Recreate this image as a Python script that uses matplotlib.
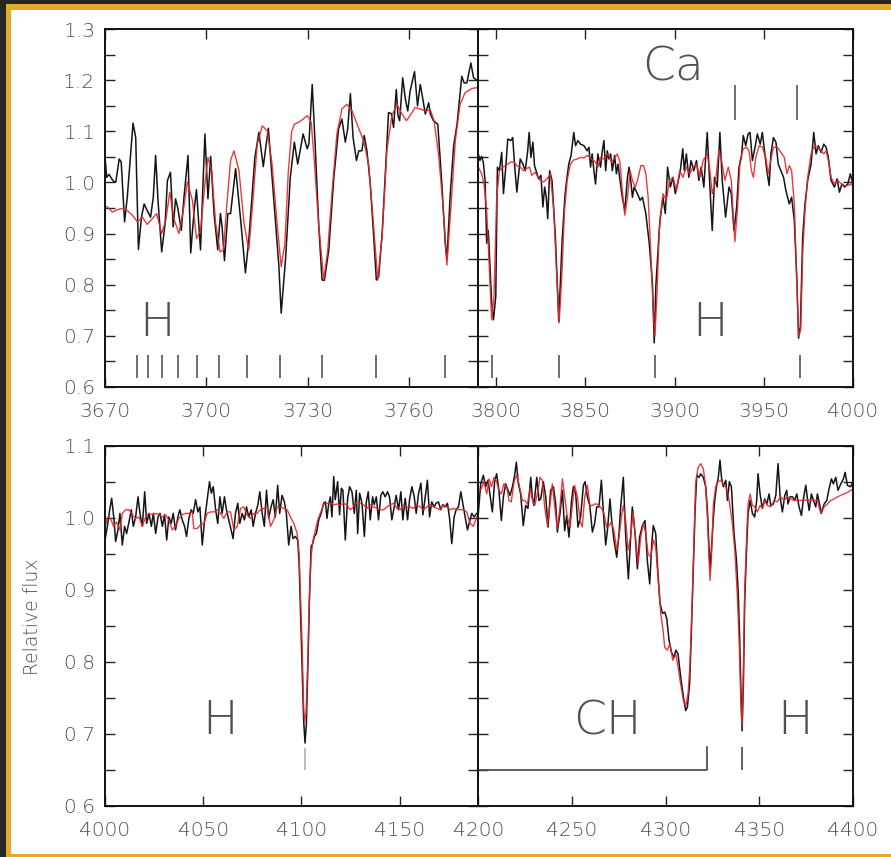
import matplotlib.pyplot as plt
from matplotlib.patches import Rectangle
from matplotlib.ticker import MultipleLocator, FormatStrFormatter

plt.rcParams['font.family'] = 'DejaVu Sans'
plt.rcParams['font.weight'] = 'light'

# ---------------- data ----------------
# panel 1: 3670-3780 A
tl_obs_wave = [3670.0, 3670.5, 3671.2, 3671.9, 3672.7, 3673.2, 3674.2, 3674.8, 3675.8, 3676.6,
               3678.3, 3679.1, 3679.9, 3680.8, 3681.6, 3682.5, 3683.5, 3684.3, 3685.0, 3685.7,
               3686.8, 3687.8, 3688.5, 3689.4, 3690.2, 3690.9, 3691.6, 3692.6, 3693.4, 3694.6,
               3695.4, 3696.4, 3697.1, 3698.3, 3699.6, 3700.5, 3701.3, 3702.3, 3703.4, 3704.2,
               3704.7, 3705.4, 3706.4, 3707.2, 3708.7, 3710.2, 3711.6, 3712.6, 3714.4, 3715.6,
               3716.9, 3717.5, 3718.4, 3719.5, 3721.5, 3722.2, 3723.5, 3724.9, 3726.1, 3727.1,
               3728.7, 3729.9, 3730.4, 3731.4, 3732.3, 3733.3, 3734.3, 3735.0, 3736.3, 3737.8,
               3739.2, 3740.2, 3741.2, 3741.9, 3742.7, 3743.5, 3744.5, 3745.2, 3746.1, 3746.8,
               3747.6, 3748.6, 3749.6, 3750.4, 3751.1, 3752.1, 3753.0, 3754.0, 3754.8, 3755.5,
               3756.3, 3756.8, 3757.3, 3758.2, 3759.0, 3759.7, 3760.4, 3761.7, 3762.6, 3763.4,
               3764.1, 3764.9, 3765.9, 3766.4, 3767.3, 3768.6, 3769.8, 3770.8, 3771.3, 3772.3,
               3773.3, 3774.3, 3775.7, 3776.4, 3777.2, 3778.4, 3779.2, 3780.4]
tl_obs_flux = [1.050, 1.010, 1.016, 1.008, 1.001, 1.001, 1.046, 1.040, 0.923, 0.971,
               1.116, 1.088, 0.869, 0.932, 0.958, 0.945, 0.932, 0.971, 1.053, 0.965,
               0.864, 0.919, 1.004, 1.020, 0.913, 0.968, 0.949, 0.906, 0.971, 1.053,
               0.862, 0.945, 0.986, 0.868, 1.095, 0.968, 1.051, 0.939, 0.868, 0.939,
               0.913, 0.847, 0.939, 0.939, 1.027, 0.926, 0.823, 0.887, 1.049, 1.098,
               1.031, 1.062, 1.106, 1.010, 0.838, 0.744, 0.851, 1.010, 1.079, 1.036,
               1.095, 1.066, 1.075, 1.192, 1.069, 0.919, 0.809, 0.808, 0.868, 1.010,
               1.105, 1.124, 1.079, 1.105, 1.174, 1.088, 1.043, 1.062, 1.062, 1.092,
               1.062, 0.997, 0.894, 0.809, 0.816, 0.900, 1.010, 1.137, 1.135, 1.108,
               1.182, 1.131, 1.121, 1.205, 1.163, 1.140, 1.179, 1.217, 1.150, 1.192,
               1.166, 1.134, 1.156, 1.134, 1.121, 1.114, 0.997, 0.881, 0.849, 0.978,
               1.072, 1.114, 1.208, 1.195, 1.195, 1.234, 1.205, 1.199]
tl_mod_wave = [3670.0, 3670.7, 3672.2, 3673.7, 3675.1, 3676.6, 3678.1, 3679.6, 3681.1, 3682.5,
               3684.0, 3685.3, 3686.8, 3688.0, 3689.2, 3690.4, 3691.9, 3693.2, 3694.4, 3695.9,
               3697.1, 3698.3, 3699.5, 3700.5, 3701.6, 3702.8, 3704.1, 3705.1, 3706.2, 3707.2,
               3708.2, 3709.7, 3711.2, 3712.6, 3713.9, 3715.1, 3716.6, 3718.1, 3719.5, 3721.0,
               3722.2, 3723.3, 3724.3, 3725.3, 3726.1, 3727.4, 3728.7, 3729.9, 3731.1, 3732.0,
               3733.3, 3734.8, 3736.0, 3737.3, 3738.7, 3740.2, 3741.7, 3743.2, 3744.7, 3746.6,
               3748.1, 3749.6, 3750.8, 3752.1, 3753.5, 3755.0, 3756.5, 3758.0, 3759.3, 3760.4,
               3761.9, 3763.4, 3764.9, 3766.4, 3767.5, 3768.8, 3770.1, 3771.3, 3772.5, 3773.8,
               3775.2, 3776.7, 3778.7, 3780.4]
tl_mod_flux = [0.953, 0.952, 0.942, 0.947, 0.949, 0.945, 0.936, 0.923, 0.932, 0.918,
               0.929, 0.939, 0.900, 0.926, 0.981, 0.929, 0.900, 0.945, 1.001, 0.965,
               0.890, 0.906, 0.991, 1.049, 1.023, 0.919, 0.864, 0.868, 0.965, 1.043,
               1.062, 1.023, 0.919, 0.868, 0.971, 1.075, 1.111, 1.101, 1.036, 0.919,
               0.835, 0.880, 1.020, 1.100, 1.114, 1.118, 1.124, 1.131, 1.118, 1.043,
               0.919, 0.809, 0.868, 0.984, 1.095, 1.144, 1.153, 1.140, 1.114, 1.082,
               1.036, 0.913, 0.809, 0.894, 1.062, 1.131, 1.153, 1.134, 1.121, 1.131,
               1.147, 1.144, 1.140, 1.142, 1.121, 1.056, 0.958, 0.838, 0.952, 1.082,
               1.153, 1.176, 1.184, 1.186]

# panel 2: 3790-4000 A
tr_obs_wave = [3790.0, 3790.9, 3791.9, 3792.8, 3793.8, 3794.7, 3795.6, 3797.5, 3798.5, 3799.8,
               3800.7, 3801.8, 3803.1, 3804.1, 3805.4, 3806.5, 3808.2, 3809.3, 3810.3, 3811.6,
               3813.5, 3815.0, 3816.3, 3817.6, 3818.5, 3819.5, 3820.6, 3821.5, 3822.9, 3823.8,
               3825.1, 3826.2, 3827.2, 3828.1, 3828.9, 3830.0, 3831.3, 3833.2, 3835.1, 3836.9,
               3838.5, 3839.4, 3840.7, 3842.0, 3843.5, 3844.5, 3845.8, 3847.3, 3849.2, 3851.0,
               3852.0, 3852.9, 3853.8, 3854.8, 3855.7, 3857.0, 3858.5, 3859.5, 3860.4, 3861.4,
               3862.3, 3863.2, 3864.2, 3865.1, 3866.4, 3867.4, 3868.3, 3869.2, 3870.7, 3872.1,
               3873.6, 3874.5, 3875.4, 3876.4, 3877.3, 3879.2, 3880.7, 3882.0, 3883.9, 3885.8,
               3887.6, 3888.6, 3889.5, 3891.4, 3892.0, 3893.5, 3894.8, 3896.1, 3897.6, 3899.1,
               3900.4, 3901.7, 3903.2, 3904.6, 3905.5, 3906.6, 3908.0, 3909.2, 3910.8, 3912.3,
               3913.6, 3914.9, 3916.4, 3918.3, 3919.8, 3921.1, 3922.4, 3923.9, 3925.4, 3926.7,
               3928.6, 3930.5, 3931.8, 3933.3, 3934.8, 3936.1, 3937.4, 3938.5, 3939.9, 3941.2,
               3942.3, 3943.6, 3945.1, 3946.4, 3948.0, 3949.2, 3950.6, 3951.7, 3953.0, 3954.0,
               3955.4, 3956.8, 3958.1, 3959.6, 3961.1, 3962.4, 3964.3, 3965.6, 3967.1, 3968.6,
               3969.5, 3970.5, 3971.8, 3973.1, 3974.6, 3976.5, 3978.0, 3979.3, 3980.6, 3982.1,
               3983.6, 3984.9, 3986.2, 3987.7, 3989.6, 3991.1, 3992.4, 3993.8, 3995.3, 3997.1,
               3998.5, 4000.0]
tr_obs_flux = [1.056, 1.043, 1.051, 1.040, 1.004, 0.881, 0.906, 0.764, 0.731, 0.777,
               1.030, 1.023, 1.059, 0.978, 1.030, 1.085, 1.082, 1.088, 1.036, 0.981,
               1.046, 1.036, 1.023, 1.059, 1.098, 1.049, 1.079, 1.033, 1.017, 1.007,
               1.014, 0.952, 0.991, 0.971, 0.929, 1.023, 1.004, 0.894, 0.728, 0.881,
               0.971, 1.001, 1.036, 1.053, 1.098, 1.072, 1.082, 1.075, 1.072, 1.062,
               1.069, 1.030, 1.056, 1.023, 0.997, 1.056, 1.030, 1.062, 1.082, 1.023,
               1.062, 1.046, 1.056, 1.023, 1.053, 1.017, 1.036, 1.010, 0.971, 0.945,
               1.010, 1.030, 1.004, 0.971, 0.991, 0.978, 0.965, 0.971, 0.939, 0.881,
               0.803, 0.686, 0.797, 0.906, 0.932, 0.971, 0.939, 1.030, 0.991, 1.010,
               0.978, 0.997, 1.023, 1.066, 1.023, 1.056, 1.010, 1.043, 1.023, 1.043,
               1.004, 1.030, 0.991, 1.098, 0.991, 0.906, 1.010, 0.991, 1.098, 1.004,
               0.932, 0.991, 0.978, 0.906, 0.952, 1.030, 1.049, 1.092, 1.072, 1.095,
               1.098, 1.043, 1.069, 1.095, 1.075, 1.098, 1.056, 1.023, 0.994, 1.056,
               1.088, 1.079, 1.036, 1.023, 1.010, 0.984, 0.958, 0.971, 0.926, 0.803,
               0.695, 0.718, 0.894, 0.958, 1.004, 1.036, 1.098, 1.056, 1.072, 1.059,
               1.075, 1.069, 1.049, 1.004, 0.991, 1.007, 0.981, 0.997, 0.991, 0.997,
               1.017, 0.997]
tr_mod_wave = [3790.0, 3791.9, 3793.2, 3794.7, 3796.2, 3797.5, 3798.8, 3800.3, 3801.8, 3803.7,
               3806.0, 3808.2, 3810.1, 3811.6, 3813.5, 3815.4, 3816.9, 3818.7, 3820.0, 3821.9,
               3823.2, 3824.7, 3826.6, 3828.5, 3830.4, 3832.3, 3833.8, 3835.3, 3836.8, 3838.3,
               3839.8, 3841.6, 3843.5, 3845.4, 3847.3, 3849.2, 3851.0, 3852.5, 3854.4, 3855.7,
               3857.0, 3858.5, 3860.4, 3861.9, 3863.2, 3864.6, 3866.1, 3867.9, 3869.4, 3870.7,
               3872.1, 3873.6, 3875.1, 3876.4, 3877.9, 3879.2, 3881.1, 3882.6, 3883.9, 3885.2,
               3886.7, 3888.0, 3889.0, 3890.1, 3891.4, 3893.5, 3895.4, 3897.2, 3899.1, 3901.0,
               3902.9, 3904.7, 3906.6, 3908.5, 3910.4, 3912.3, 3914.1, 3916.0, 3918.3, 3919.8,
               3921.1, 3923.0, 3924.8, 3926.3, 3928.2, 3930.1, 3931.8, 3932.9, 3933.8, 3935.2,
               3936.7, 3938.5, 3940.4, 3941.7, 3943.1, 3944.2, 3945.5, 3947.4, 3949.2, 3951.1,
               3952.4, 3953.9, 3955.4, 3957.7, 3959.6, 3961.5, 3963.0, 3964.3, 3965.6, 3967.1,
               3968.4, 3969.5, 3970.7, 3971.8, 3973.1, 3974.6, 3976.5, 3978.4, 3980.2, 3982.1,
               3983.6, 3984.9, 3986.2, 3987.7, 3989.6, 3991.5, 3993.4, 3995.3, 3997.1, 3999.0,
               4000.5]
tr_mod_flux = [1.030, 1.017, 0.997, 0.945, 0.829, 0.731, 0.777, 0.971, 1.023, 1.030,
               1.035, 1.040, 1.040, 1.033, 1.030, 1.023, 1.027, 1.030, 1.014, 1.020,
               1.012, 1.004, 1.001, 1.007, 1.017, 0.945, 0.829, 0.725, 0.816, 0.945,
               1.004, 1.036, 1.044, 1.046, 1.049, 1.048, 1.053, 1.049, 1.043, 1.040,
               1.030, 1.049, 1.046, 1.056, 1.053, 1.040, 1.046, 1.056, 1.040, 0.984,
               0.936, 0.971, 1.023, 1.004, 0.991, 1.004, 1.033, 1.033, 1.017, 0.971,
               0.861, 0.751, 0.700, 0.777, 0.906, 0.978, 0.965, 1.004, 1.010, 0.984,
               1.023, 1.010, 1.030, 1.017, 1.030, 1.036, 1.010, 1.043, 1.056, 1.023,
               0.978, 1.004, 1.062, 1.043, 1.004, 1.030, 1.004, 0.932, 0.884, 0.945,
               1.043, 1.066, 1.069, 1.062, 1.023, 1.010, 1.049, 1.072, 1.069, 1.049,
               1.017, 1.043, 1.069, 1.069, 1.059, 1.049, 1.017, 1.033, 1.023, 0.958,
               0.816, 0.699, 0.712, 0.861, 0.945, 1.010, 1.056, 1.072, 1.069, 1.062,
               1.056, 1.062, 1.043, 1.010, 0.997, 1.004, 0.997, 0.994, 0.994, 0.997,
               0.991]

# panel 3: 4000-4190 A
bl_obs_wave = [4000.0, 4001.2, 4002.4, 4003.4, 4004.6, 4005.4, 4006.6, 4007.6, 4008.8, 4010.0,
               4011.0, 4012.2, 4013.4, 4014.4, 4015.6, 4016.8, 4017.8, 4019.0, 4020.2, 4021.2,
               4022.4, 4023.6, 4024.6, 4025.8, 4027.0, 4028.0, 4029.2, 4030.3, 4031.4, 4032.5,
               4033.7, 4034.7, 4035.9, 4037.1, 4038.1, 4039.3, 4040.5, 4041.5, 4042.7, 4043.9,
               4044.9, 4046.1, 4047.3, 4048.3, 4049.5, 4050.7, 4052.0, 4053.2, 4054.1, 4055.1,
               4056.3, 4057.4, 4058.5, 4059.6, 4060.8, 4061.8, 4063.0, 4064.2, 4065.2, 4066.4,
               4067.6, 4068.6, 4069.8, 4071.0, 4072.0, 4073.2, 4074.4, 4075.4, 4076.6, 4077.8,
               4078.8, 4080.0, 4081.1, 4082.2, 4083.3, 4084.5, 4085.6, 4086.7, 4087.9, 4088.9,
               4090.1, 4091.3, 4092.3, 4093.5, 4094.7, 4095.7, 4096.9, 4098.1, 4098.8, 4099.4,
               4100.3, 4101.1, 4101.8, 4102.5, 4103.2, 4104.0, 4104.9, 4105.7, 4106.6, 4107.6,
               4108.8, 4110.0, 4111.3, 4112.2, 4113.0, 4113.8, 4114.7, 4115.5, 4116.4, 4117.2,
               4118.4, 4119.4, 4120.3, 4121.1, 4122.3, 4123.5, 4124.5, 4125.7, 4126.9, 4127.9,
               4128.6, 4129.6, 4130.8, 4132.0, 4133.0, 4134.0, 4135.0, 4136.2, 4137.0, 4138.1,
               4139.2, 4140.4, 4141.4, 4142.6, 4143.8, 4144.8, 4146.0, 4147.2, 4148.2, 4149.4,
               4150.6, 4151.6, 4152.8, 4154.0, 4155.0, 4156.2, 4157.4, 4158.4, 4159.6, 4160.8,
               4161.8, 4163.0, 4164.1, 4165.2, 4166.3, 4167.5, 4168.5, 4169.7, 4170.9, 4171.9,
               4173.1, 4174.3, 4175.3, 4176.5, 4177.7, 4178.7, 4179.9, 4181.1, 4182.1, 4183.3,
               4184.5, 4185.5, 4186.7, 4187.9, 4189.2]
bl_obs_flux = [0.969, 0.988, 1.011, 1.027, 0.997, 0.967, 0.983, 1.006, 0.962, 0.988,
               0.978, 0.994, 1.011, 0.988, 1.001, 1.029, 1.006, 0.988, 1.036, 0.992,
               1.006, 0.988, 1.006, 0.978, 1.001, 1.006, 0.988, 1.004, 0.969, 1.001,
               0.992, 1.006, 0.983, 1.001, 1.011, 0.997, 0.988, 0.974, 0.999, 1.011,
               1.006, 1.025, 1.008, 1.015, 0.962, 0.997, 1.025, 1.050, 1.034, 1.043,
               1.011, 0.992, 1.029, 1.006, 1.029, 1.011, 0.997, 0.983, 0.971, 1.006,
               1.020, 0.992, 1.006, 0.997, 1.015, 1.001, 1.011, 0.988, 1.006, 1.018,
               1.036, 1.006, 0.988, 1.038, 0.999, 1.015, 1.025, 1.001, 1.045, 1.006,
               1.031, 1.022, 1.006, 0.962, 0.988, 0.971, 0.974, 0.969, 0.937, 0.881,
               0.798, 0.719, 0.687, 0.714, 0.788, 0.881, 0.960, 0.964, 0.974, 0.978,
               0.997, 1.006, 1.020, 1.022, 0.999, 1.018, 1.029, 1.001, 1.057, 1.025,
               1.050, 1.004, 1.041, 1.038, 0.969, 1.027, 1.043, 1.036, 1.006, 1.038,
               0.978, 1.034, 1.020, 0.974, 1.022, 1.036, 0.997, 1.029, 1.018, 1.029,
               0.997, 1.031, 1.036, 1.029, 1.036, 1.029, 0.997, 1.015, 1.031, 1.011,
               1.036, 0.997, 1.027, 0.997, 1.025, 1.043, 1.029, 1.006, 1.034, 1.048,
               1.004, 1.029, 1.052, 1.001, 1.022, 1.015, 1.020, 1.022, 1.011, 1.018,
               1.015, 1.020, 1.001, 0.964, 1.001, 1.011, 1.015, 1.036, 1.020, 1.001,
               0.983, 0.994, 1.006, 1.001, 1.006]
bl_mod_wave = [4000.0, 4001.5, 4002.9, 4004.3, 4005.9, 4007.6, 4008.8, 4010.5, 4012.2, 4013.9,
               4015.6, 4017.3, 4019.0, 4020.7, 4022.4, 4024.1, 4025.8, 4027.5, 4029.2, 4030.8,
               4032.5, 4034.2, 4035.9, 4037.6, 4039.3, 4041.0, 4042.7, 4044.4, 4045.2, 4046.9,
               4048.6, 4050.3, 4052.0, 4053.7, 4055.4, 4057.1, 4058.8, 4060.5, 4062.2, 4063.9,
               4065.6, 4067.3, 4069.0, 4070.6, 4072.3, 4074.0, 4075.7, 4077.4, 4079.1, 4080.8,
               4082.5, 4084.2, 4085.9, 4087.6, 4089.3, 4091.0, 4092.7, 4094.4, 4096.1, 4097.8,
               4098.8, 4099.4, 4100.3, 4101.1, 4101.6, 4102.3, 4103.2, 4104.0, 4104.9, 4105.9,
               4107.1, 4108.3, 4109.6, 4111.3, 4113.0, 4114.7, 4116.4, 4118.1, 4119.8, 4121.5,
               4123.1, 4124.8, 4126.5, 4128.2, 4129.9, 4131.6, 4133.3, 4135.0, 4136.7, 4138.4,
               4140.1, 4141.8, 4143.5, 4145.2, 4146.9, 4148.6, 4150.3, 4152.0, 4153.6, 4155.3,
               4157.0, 4158.7, 4160.4, 4162.1, 4163.8, 4165.5, 4167.2, 4168.9, 4170.6, 4172.3,
               4174.0, 4175.7, 4177.4, 4179.1, 4180.7, 4182.4, 4184.1, 4185.8, 4187.5, 4189.2]
bl_mod_flux = [0.988, 1.001, 0.999, 0.988, 0.994, 0.983, 1.006, 1.011, 1.011, 1.004,
               0.999, 1.001, 0.988, 1.001, 1.006, 1.004, 1.006, 1.004, 1.001, 1.004,
               0.997, 0.983, 0.988, 0.999, 1.004, 1.006, 1.006, 1.008, 0.985, 0.985,
               0.990, 0.992, 1.006, 1.008, 1.008, 1.011, 1.006, 0.999, 1.008, 1.008,
               0.983, 0.988, 1.013, 1.015, 1.004, 0.999, 1.006, 1.006, 1.011, 1.013,
               1.015, 0.988, 0.997, 1.015, 1.015, 1.013, 1.011, 1.001, 0.992, 0.978,
               0.950, 0.900, 0.825, 0.738, 0.717, 0.728, 0.798, 0.890, 0.946, 0.969,
               0.983, 0.997, 1.006, 1.018, 1.020, 1.020, 1.018, 1.019, 1.018, 1.020,
               1.018, 1.011, 1.015, 1.022, 1.020, 1.018, 1.013, 1.018, 1.015, 1.013,
               1.011, 1.011, 1.015, 1.018, 1.020, 1.013, 1.011, 1.018, 1.015, 1.015,
               1.013, 1.018, 1.015, 1.011, 1.015, 1.018, 1.015, 1.013, 1.011, 1.018,
               1.015, 1.011, 1.013, 1.011, 1.011, 1.011, 1.008, 0.992, 0.988, 1.001]

# panel 4: 4200-4400 A
br_obs_wave = [4200.0, 4201.3, 4202.7, 4203.9, 4205.2, 4206.2, 4207.5, 4208.7, 4209.8, 4211.0,
               4212.3, 4213.4, 4214.6, 4215.9, 4216.9, 4218.2, 4219.4, 4220.3, 4221.4, 4222.6,
               4224.0, 4225.3, 4226.5, 4228.0, 4228.8, 4229.7, 4231.2, 4232.4, 4233.3, 4234.7,
               4236.0, 4237.2, 4238.6, 4240.1, 4241.3, 4242.2, 4243.6, 4244.9, 4246.1, 4247.2,
               4248.4, 4249.7, 4250.7, 4252.0, 4253.2, 4254.6, 4256.1, 4257.0, 4258.2, 4259.5,
               4260.9, 4262.1, 4263.2, 4264.4, 4265.7, 4266.8, 4268.0, 4268.9, 4270.3, 4271.2,
               4272.4, 4273.9, 4275.1, 4276.0, 4277.4, 4278.7, 4280.1, 4281.3, 4282.2, 4283.7,
               4284.9, 4286.1, 4287.6, 4289.0, 4290.2, 4291.5, 4292.6, 4293.4, 4294.7, 4295.9,
               4297.0, 4298.3, 4299.5, 4300.6, 4301.8, 4303.1, 4304.5, 4305.4, 4306.6, 4308.0,
               4309.5, 4310.7, 4311.6, 4312.8, 4313.7, 4314.8, 4315.7, 4316.6, 4317.8, 4318.7,
               4320.1, 4321.4, 4322.3, 4323.2, 4323.7, 4324.4, 4325.5, 4326.2, 4327.1, 4328.1,
               4329.0, 4329.8, 4330.8, 4332.1, 4333.0, 4334.0, 4335.1, 4336.5, 4337.8, 4338.7,
               4339.5, 4340.1, 4340.8, 4341.5, 4342.2, 4343.3, 4344.0, 4345.1, 4346.3, 4347.5,
               4348.6, 4349.3, 4350.4, 4351.6, 4352.9, 4354.0, 4355.2, 4356.1, 4357.5, 4358.8,
               4360.0, 4361.1, 4362.3, 4363.6, 4364.6, 4365.3, 4366.4, 4367.7, 4368.9, 4370.0,
               4371.2, 4372.5, 4373.5, 4374.8, 4375.7, 4376.6, 4377.8, 4378.9, 4380.1, 4381.0,
               4382.3, 4383.1, 4384.6, 4386.0, 4387.2, 4388.5, 4389.5, 4390.8, 4392.0, 4393.5,
               4394.9, 4395.8, 4397.0, 4398.8, 4400.0]
br_obs_flux = [1.006, 1.047, 1.059, 1.043, 1.052, 1.033, 1.008, 1.050, 1.061, 1.038,
               0.996, 1.029, 1.047, 1.038, 1.031, 1.043, 1.059, 1.077, 1.047, 1.033,
               0.989, 1.017, 1.013, 1.056, 1.029, 1.017, 1.056, 1.024, 1.026, 1.050,
               1.029, 0.987, 1.038, 1.043, 1.019, 0.980, 1.006, 1.038, 0.982, 1.003,
               0.973, 1.022, 1.043, 1.033, 0.987, 1.001, 1.045, 1.050, 1.029, 1.017,
               0.980, 0.992, 1.015, 1.015, 1.052, 1.006, 0.962, 0.982, 1.026, 0.996,
               0.969, 0.945, 0.978, 1.015, 1.056, 0.973, 0.915, 0.973, 1.015, 0.978,
               0.929, 0.973, 0.989, 0.996, 0.941, 0.908, 0.964, 0.989, 0.978, 0.922,
               0.881, 0.867, 0.869, 0.860, 0.830, 0.813, 0.806, 0.816, 0.811, 0.779,
               0.751, 0.732, 0.737, 0.769, 0.839, 0.931, 1.010, 1.059, 1.056, 1.061,
               1.056, 1.043, 1.010, 0.955, 0.929, 0.955, 1.001, 1.024, 1.043, 1.056,
               1.080, 1.056, 1.043, 1.052, 1.024, 1.050, 1.043, 0.978, 0.941, 0.899,
               0.834, 0.769, 0.704, 0.769, 0.885, 0.964, 1.006, 1.024, 1.006, 1.001,
               1.024, 1.061, 1.033, 1.013, 1.026, 1.019, 1.033, 1.017, 1.019, 1.031,
               1.075, 1.029, 1.008, 1.031, 1.038, 1.019, 1.029, 1.029, 1.024, 1.033,
               1.015, 1.003, 1.026, 1.045, 1.026, 1.010, 1.033, 1.024, 1.015, 1.033,
               1.017, 1.006, 1.019, 1.024, 1.040, 1.054, 1.047, 1.056, 1.038, 1.047,
               1.054, 1.063, 1.045, 1.043, 1.050]
br_mod_wave = [4200.0, 4201.6, 4203.0, 4204.5, 4205.7, 4207.0, 4208.4, 4209.8, 4211.0, 4212.3,
               4213.7, 4215.1, 4216.4, 4217.6, 4219.1, 4220.5, 4221.7, 4223.5, 4224.7, 4226.2,
               4227.6, 4228.8, 4230.1, 4231.5, 4232.9, 4234.2, 4235.4, 4236.9, 4238.3, 4239.5,
               4240.8, 4242.2, 4243.6, 4244.9, 4246.1, 4247.5, 4249.0, 4250.2, 4251.4, 4252.9,
               4254.3, 4255.5, 4256.8, 4258.2, 4259.6, 4260.9, 4262.1, 4263.2, 4264.4, 4265.7,
               4267.1, 4268.5, 4269.8, 4271.0, 4272.4, 4273.9, 4275.1, 4276.4, 4277.4, 4278.7,
               4279.9, 4281.3, 4282.6, 4284.0, 4285.3, 4286.7, 4288.1, 4289.4, 4290.6, 4292.0,
               4293.5, 4294.7, 4295.9, 4297.4, 4298.6, 4299.5, 4300.9, 4302.3, 4303.8, 4305.4,
               4306.6, 4308.0, 4309.5, 4310.7, 4312.0, 4313.0, 4314.3, 4315.2, 4316.0, 4317.3,
               4318.7, 4320.1, 4321.2, 4322.3, 4323.2, 4323.7, 4324.4, 4325.5, 4326.7, 4328.0,
               4329.4, 4330.8, 4332.1, 4333.3, 4334.4, 4335.6, 4336.9, 4338.3, 4339.4, 4340.1,
               4340.8, 4341.5, 4342.2, 4343.3, 4344.0, 4345.1, 4346.3, 4347.5, 4349.0, 4350.4,
               4351.6, 4352.9, 4354.3, 4356.1, 4357.9, 4359.6, 4361.4, 4363.2, 4365.0, 4366.8,
               4368.5, 4370.3, 4372.1, 4373.9, 4375.7, 4377.4, 4379.2, 4381.0, 4382.8, 4384.6,
               4386.3, 4388.1, 4389.9, 4391.7, 4393.5, 4395.2, 4397.0, 4398.8, 4400.0]
br_mod_flux = [1.038, 1.040, 1.050, 1.033, 1.054, 1.043, 1.056, 1.050, 1.038, 1.033,
               1.047, 1.043, 1.024, 1.022, 1.050, 1.059, 1.047, 1.024, 1.024, 1.019,
               1.040, 1.026, 1.017, 1.033, 1.056, 1.052, 1.015, 0.989, 1.019, 1.047,
               1.015, 0.985, 1.015, 1.054, 1.029, 1.001, 0.987, 1.017, 1.045, 1.029,
               0.996, 0.987, 1.029, 1.045, 1.017, 1.017, 1.019, 1.019, 1.017, 1.013,
               1.006, 0.987, 0.989, 0.994, 0.982, 0.955, 0.973, 1.001, 1.017, 0.996,
               0.955, 0.973, 1.008, 0.969, 0.936, 0.973, 0.992, 0.978, 0.950, 0.945,
               0.969, 0.959, 0.918, 0.867, 0.844, 0.820, 0.816, 0.825, 0.802, 0.811,
               0.793, 0.769, 0.746, 0.739, 0.756, 0.797, 0.894, 0.973, 1.047, 1.070,
               1.075, 1.068, 1.047, 1.001, 0.941, 0.913, 0.941, 1.019, 1.043, 1.050,
               1.052, 1.047, 1.043, 1.033, 1.015, 0.992, 0.955, 0.890, 0.816, 0.742,
               0.710, 0.793, 0.899, 0.978, 1.019, 1.033, 1.017, 1.015, 1.008, 1.017,
               1.013, 1.024, 1.017, 1.015, 1.024, 1.022, 1.029, 1.024, 1.029, 1.026,
               1.024, 1.024, 1.024, 1.024, 1.025, 1.024, 1.024, 1.024, 1.006, 1.015,
               1.019, 1.024, 1.026, 1.029, 1.031, 1.033, 1.035, 1.038, 1.040]

# line identifications
h_lines_tl = [3679.4, 3682.8, 3686.8, 3691.6, 3697.2, 3703.9, 3712.0, 3721.9, 3734.4, 3750.2, 3770.6]
h_lines_tr = [3797.9, 3835.4, 3889.1, 3970.1]
ca_lines = [3933.7, 3968.5]
h_delta = 4101.7
h_gamma = 4340.5
ch_band = [4200, 4322]

# ---------------- figure ----------------
W, H = 891, 857
fig = plt.figure(figsize=(W / 100, H / 100), dpi=100, facecolor='#262626')
fig.add_artist(Rectangle((6 / W, 0), 1, (H - 4) / H, transform=fig.transFigure,
                         facecolor='#e3aa2c', edgecolor='none', zorder=-3))
fig.add_artist(Rectangle((11 / W, 3 / H), 1, (H - 13) / H, transform=fig.transFigure,
                         facecolor='white', edgecolor='none', zorder=-2))

xl, xm, xr = 105 / W, 478.3 / W, 853 / W
top_rect_y, top_h = 1 - 386.7 / H, 357.4 / H
bot_rect_y, bot_h = 1 - 805.7 / H, 360.0 / H

txt_col = '#505050'
obs_col = '#151515'
mod_col = '#e5262d'


def panel(rect, xlim, ylim, xticks, yticks, left_labels):
    ax = fig.add_axes(rect)
    ax.set_xlim(*xlim)
    ax.set_ylim(*ylim)
    ax.set_xticks(xticks)
    ax.set_yticks(yticks)
    ax.yaxis.set_minor_locator(MultipleLocator(0.05))
    ax.yaxis.set_major_formatter(FormatStrFormatter('%.1f'))
    ax.tick_params(which='both', direction='in', top=True, right=True,
                   length=7, width=1.0, color='#222222', labelcolor=txt_col,
                   labelsize=14.5, labelleft=left_labels)
    ax.tick_params(axis='x', pad=11)
    ax.tick_params(axis='y', pad=7)
    for s in ax.spines.values():
        s.set_linewidth(1.4)
        s.set_color('#111111')
    return ax


yt_top = [0.6, 0.7, 0.8, 0.9, 1.0, 1.1, 1.2, 1.3]
yt_bot = [0.6, 0.7, 0.8, 0.9, 1.0, 1.1]

ax1 = panel([xl, top_rect_y, xm - xl, top_h], (3670, 3780.6), (0.6, 1.3),
            [3670, 3700, 3730, 3760], yt_top, True)
ax2 = panel([xm, top_rect_y, xr - xm, top_h], (3790, 4000), (0.6, 1.3),
            [3800, 3850, 3900, 3950, 4000], yt_top, False)
ax3 = panel([xl, bot_rect_y, xm - xl, bot_h], (4000, 4190), (0.6, 1.1),
            [4000, 4050, 4100, 4150], yt_bot, True)
ax4 = panel([xm, bot_rect_y, xr - xm, bot_h], (4200, 4400), (0.6, 1.1),
            [4200, 4250, 4300, 4350, 4400], yt_bot, False)

for ax, ow, of, mw, mf in [(ax1, tl_obs_wave, tl_obs_flux, tl_mod_wave, tl_mod_flux),
                           (ax2, tr_obs_wave, tr_obs_flux, tr_mod_wave, tr_mod_flux),
                           (ax3, bl_obs_wave, bl_obs_flux, bl_mod_wave, bl_mod_flux),
                           (ax4, br_obs_wave, br_obs_flux, br_mod_wave, br_mod_flux)]:
    ax.plot(ow, of, color=obs_col, lw=1.1)
    ax.plot(mw, mf, color=mod_col, lw=1.0, alpha=0.9)

mark_col = '#555555'
big = dict(color=txt_col, fontsize=34, ha='center', va='baseline', fontweight='light')

# panel 1
ax1.vlines(h_lines_tl, 0.617, 0.662, color=mark_col, lw=1.2)
ax1.text(3685.5, 0.699, 'H', **big)

# panel 2
ax2.vlines(h_lines_tr, 0.617, 0.662, color=mark_col, lw=1.2)
ax2.vlines(ca_lines, 1.122, 1.191, color=mark_col, lw=1.2)
ax2.text(3899, 1.2, 'Ca', **big)
ax2.text(3919.7, 0.699, 'H', **big)

# panel 3
ax3.vlines([h_delta], 0.65, 0.68, color='#b0b0b0', lw=1.2)
ax3.text(4058.8, 0.699, 'H', **big)

# panel 4
ax4.plot([ch_band[0], ch_band[1], ch_band[1]], [0.65, 0.65, 0.681], color='#444444', lw=1.2)
ax4.vlines([h_gamma], 0.65, 0.681, color='#444444', lw=1.2)
ax4.text(4268.9, 0.699, 'CH', **big)
ax4.text(4369, 0.699, 'H', **big)

fig.text(32 / W, 1 - 617 / H, 'Relative flux', rotation=90, ha='center', va='center',
         color=txt_col, fontsize=13.5)

fig.savefig('out.png', dpi=100, facecolor=fig.get_facecolor())
